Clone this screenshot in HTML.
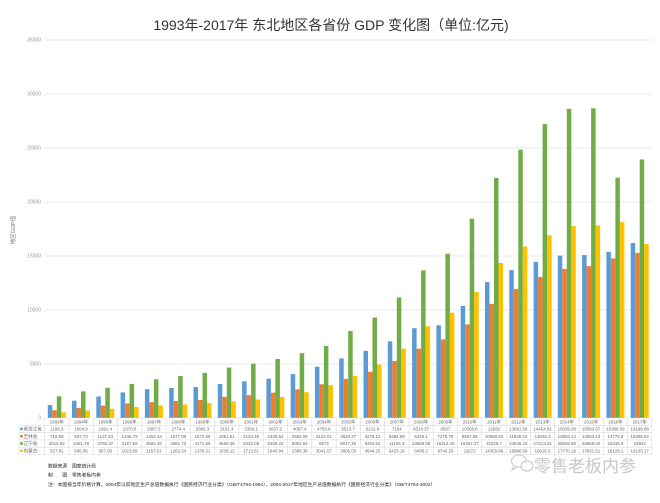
<!DOCTYPE html>
<html>
<head>
<meta charset="utf-8">
<style>
html,body{margin:0;padding:0;background:#ffffff;}
svg{display:block;}
text{font-family:"Liberation Sans","Noto Sans CJK SC",sans-serif;}
</style>
</head>
<body>
<svg width="660" height="503" viewBox="0 0 660 503" xmlns="http://www.w3.org/2000/svg">
<rect width="660" height="503" fill="#ffffff"/>
<!-- title -->
<text x="331" y="30" font-size="14" fill="#333" text-anchor="middle">1993年-2017年 东北地区各省份 GDP 变化图（单位:亿元)</text>

<!-- gridlines -->
<g stroke="#e3e3e3" stroke-width="0.8">
<line x1="44.6" y1="40" x2="652" y2="40"/>
<line x1="44.6" y1="94" x2="652" y2="94"/>
<line x1="44.6" y1="148" x2="652" y2="148"/>
<line x1="44.6" y1="202" x2="652" y2="202"/>
<line x1="44.6" y1="256" x2="652" y2="256"/>
<line x1="44.6" y1="310" x2="652" y2="310"/>
<line x1="44.6" y1="364" x2="652" y2="364"/>
</g>
<g font-size="5" fill="#999" text-anchor="end">
<text x="41" y="41.7">35000</text>
<text x="41" y="95.7">30000</text>
<text x="41" y="149.7">25000</text>
<text x="41" y="203.7">20000</text>
<text x="41" y="257.7">15000</text>
<text x="41" y="311.7">10000</text>
<text x="41" y="365.7">5000</text>
<text x="41" y="419.7">0</text>
</g>
<text transform="translate(15,230) rotate(-90)" font-size="5.5" fill="#777" text-anchor="middle">地区GDP值</text>

<!-- bars -->
<g transform="translate(0,418) scale(1,-1)">
<g transform="translate(56.8,0)"><rect x="-9" width="4.5" height="12.94" fill="#5b9bd5"/><rect x="-4.5" width="4.5" height="7.76" fill="#ed7d31"/><rect x="0" width="4.5" height="21.72" fill="#70ad47"/><rect x="4.5" width="4.5" height="5.70" fill="#ffc000"/></g>
<g transform="translate(81.0,0)"><rect x="-9" width="4.5" height="17.33" fill="#5b9bd5"/><rect x="-4.5" width="4.5" height="10.13" fill="#ed7d31"/><rect x="0" width="4.5" height="26.59" fill="#70ad47"/><rect x="4.5" width="4.5" height="7.51" fill="#ffc000"/></g>
<g transform="translate(105.3,0)"><rect x="-9" width="4.5" height="21.51" fill="#5b9bd5"/><rect x="-4.5" width="4.5" height="12.28" fill="#ed7d31"/><rect x="0" width="4.5" height="30.17" fill="#70ad47"/><rect x="4.5" width="4.5" height="9.26" fill="#ffc000"/></g>
<g transform="translate(129.6,0)"><rect x="-9" width="4.5" height="25.60" fill="#5b9bd5"/><rect x="-4.5" width="4.5" height="14.55" fill="#ed7d31"/><rect x="0" width="4.5" height="34.10" fill="#70ad47"/><rect x="4.5" width="4.5" height="11.05" fill="#ffc000"/></g>
<g transform="translate(153.9,0)"><rect x="-9" width="4.5" height="28.81" fill="#5b9bd5"/><rect x="-4.5" width="4.5" height="15.81" fill="#ed7d31"/><rect x="0" width="4.5" height="38.69" fill="#70ad47"/><rect x="4.5" width="4.5" height="12.46" fill="#ffc000"/></g>
<g transform="translate(178.2,0)"><rect x="-9" width="4.5" height="29.96" fill="#5b9bd5"/><rect x="-4.5" width="4.5" height="17.03" fill="#ed7d31"/><rect x="0" width="4.5" height="41.92" fill="#70ad47"/><rect x="4.5" width="4.5" height="13.64" fill="#ffc000"/></g>
<g transform="translate(202.5,0)"><rect x="-9" width="4.5" height="30.96" fill="#5b9bd5"/><rect x="-4.5" width="4.5" height="18.07" fill="#ed7d31"/><rect x="0" width="4.5" height="45.05" fill="#70ad47"/><rect x="4.5" width="4.5" height="14.90" fill="#ffc000"/></g>
<g transform="translate(226.8,0)"><rect x="-9" width="4.5" height="34.04" fill="#5b9bd5"/><rect x="-4.5" width="4.5" height="21.08" fill="#ed7d31"/><rect x="0" width="4.5" height="50.43" fill="#70ad47"/><rect x="4.5" width="4.5" height="16.62" fill="#ffc000"/></g>
<g transform="translate(251.1,0)"><rect x="-9" width="4.5" height="36.61" fill="#5b9bd5"/><rect x="-4.5" width="4.5" height="22.90" fill="#ed7d31"/><rect x="0" width="4.5" height="54.36" fill="#70ad47"/><rect x="4.5" width="4.5" height="18.51" fill="#ffc000"/></g>
<g transform="translate(275.4,0)"><rect x="-9" width="4.5" height="39.28" fill="#5b9bd5"/><rect x="-4.5" width="4.5" height="25.36" fill="#ed7d31"/><rect x="0" width="4.5" height="58.95" fill="#70ad47"/><rect x="4.5" width="4.5" height="20.96" fill="#ffc000"/></g>
<g transform="translate(299.7,0)"><rect x="-9" width="4.5" height="43.82" fill="#5b9bd5"/><rect x="-4.5" width="4.5" height="28.75" fill="#ed7d31"/><rect x="0" width="4.5" height="64.83" fill="#70ad47"/><rect x="4.5" width="4.5" height="25.79" fill="#ffc000"/></g>
<g transform="translate(323.9,0)"><rect x="-9" width="4.5" height="51.31" fill="#5b9bd5"/><rect x="-4.5" width="4.5" height="33.72" fill="#ed7d31"/><rect x="0" width="4.5" height="72.06" fill="#70ad47"/><rect x="4.5" width="4.5" height="32.84" fill="#ffc000"/></g>
<g transform="translate(348.2,0)"><rect x="-9" width="4.5" height="59.55" fill="#5b9bd5"/><rect x="-4.5" width="4.5" height="39.10" fill="#ed7d31"/><rect x="0" width="4.5" height="86.91" fill="#70ad47"/><rect x="4.5" width="4.5" height="42.17" fill="#ffc000"/></g>
<g transform="translate(372.5,0)"><rect x="-9" width="4.5" height="67.09" fill="#5b9bd5"/><rect x="-4.5" width="4.5" height="46.17" fill="#ed7d31"/><rect x="0" width="4.5" height="100.49" fill="#70ad47"/><rect x="4.5" width="4.5" height="53.40" fill="#ffc000"/></g>
<g transform="translate(396.8,0)"><rect x="-9" width="4.5" height="76.72" fill="#5b9bd5"/><rect x="-4.5" width="4.5" height="57.07" fill="#ed7d31"/><rect x="0" width="4.5" height="120.57" fill="#70ad47"/><rect x="4.5" width="4.5" height="69.37" fill="#ffc000"/></g>
<g transform="translate(421.1,0)"><rect x="-9" width="4.5" height="89.79" fill="#5b9bd5"/><rect x="-4.5" width="4.5" height="69.40" fill="#ed7d31"/><rect x="0" width="4.5" height="147.62" fill="#70ad47"/><rect x="4.5" width="4.5" height="91.76" fill="#ffc000"/></g>
<g transform="translate(445.4,0)"><rect x="-9" width="4.5" height="92.74" fill="#5b9bd5"/><rect x="-4.5" width="4.5" height="78.61" fill="#ed7d31"/><rect x="0" width="4.5" height="164.29" fill="#70ad47"/><rect x="4.5" width="4.5" height="105.19" fill="#ffc000"/></g>
<g transform="translate(469.7,0)"><rect x="-9" width="4.5" height="111.98" fill="#5b9bd5"/><rect x="-4.5" width="4.5" height="93.61" fill="#ed7d31"/><rect x="0" width="4.5" height="199.34" fill="#70ad47"/><rect x="4.5" width="4.5" height="126.06" fill="#ffc000"/></g>
<g transform="translate(494.0,0)"><rect x="-9" width="4.5" height="135.89" fill="#5b9bd5"/><rect x="-4.5" width="4.5" height="114.14" fill="#ed7d31"/><rect x="0" width="4.5" height="240.05" fill="#70ad47"/><rect x="4.5" width="4.5" height="155.09" fill="#ffc000"/></g>
<g transform="translate(518.3,0)"><rect x="-9" width="4.5" height="147.87" fill="#5b9bd5"/><rect x="-4.5" width="4.5" height="128.94" fill="#ed7d31"/><rect x="0" width="4.5" height="268.34" fill="#70ad47"/><rect x="4.5" width="4.5" height="171.51" fill="#ffc000"/></g>
<g transform="translate(542.6,0)"><rect x="-9" width="4.5" height="156.11" fill="#5b9bd5"/><rect x="-4.5" width="4.5" height="140.90" fill="#ed7d31"/><rect x="0" width="4.5" height="293.90" fill="#70ad47"/><rect x="4.5" width="4.5" height="182.70" fill="#ffc000"/></g>
<g transform="translate(566.8,0)"><rect x="-9" width="4.5" height="162.43" fill="#5b9bd5"/><rect x="-4.5" width="4.5" height="149.07" fill="#ed7d31"/><rect x="0" width="4.5" height="309.17" fill="#70ad47"/><rect x="4.5" width="4.5" height="191.92" fill="#ffc000"/></g>
<g transform="translate(591.1,0)"><rect x="-9" width="4.5" height="162.90" fill="#5b9bd5"/><rect x="-4.5" width="4.5" height="151.88" fill="#ed7d31"/><rect x="0" width="4.5" height="309.63" fill="#70ad47"/><rect x="4.5" width="4.5" height="192.58" fill="#ffc000"/></g>
<g transform="translate(615.4,0)"><rect x="-9" width="4.5" height="166.17" fill="#5b9bd5"/><rect x="-4.5" width="4.5" height="159.59" fill="#ed7d31"/><rect x="0" width="4.5" height="240.27" fill="#70ad47"/><rect x="4.5" width="4.5" height="195.78" fill="#ffc000"/></g>
<g transform="translate(639.7,0)"><rect x="-9" width="4.5" height="174.96" fill="#5b9bd5"/><rect x="-4.5" width="4.5" height="165.12" fill="#ed7d31"/><rect x="0" width="4.5" height="258.57" fill="#70ad47"/><rect x="4.5" width="4.5" height="173.91" fill="#ffc000"/></g>
</g>

<!-- table grid -->
<g stroke="#d9d9d9" stroke-width="0.6" fill="none">
<line x1="44.6" y1="418" x2="651.9" y2="418"/>
<line x1="19" y1="425.3" x2="651.9" y2="425.3"/>
<line x1="19" y1="432.6" x2="651.9" y2="432.6"/>
<line x1="19" y1="439.9" x2="651.9" y2="439.9"/>
<line x1="19" y1="447.2" x2="651.9" y2="447.2"/>
<line x1="19" y1="454.5" x2="651.9" y2="454.5"/>
<line x1="19" y1="425.3" x2="19" y2="454.5"/>
<path d="M44.6 418V454.5M68.9 418V454.5M93.2 418V454.5M117.5 418V454.5M141.8 418V454.5M166.1 418V454.5M190.3 418V454.5M214.6 418V454.5M238.9 418V454.5M263.2 418V454.5M287.5 418V454.5M311.8 418V454.5M336.1 418V454.5M360.4 418V454.5M384.7 418V454.5M409.0 418V454.5M433.2 418V454.5M457.5 418V454.5M481.8 418V454.5M506.1 418V454.5M530.4 418V454.5M554.7 418V454.5M579.0 418V454.5M603.3 418V454.5M627.6 418V454.5M651.9 418V454.5"/>
</g>

<!-- row labels -->
<g font-size="4.6" fill="#666">
<rect x="20.2" y="427.6" width="2.6" height="2.6" fill="#5b9bd5"/><text x="23.5" y="430.6">黑龙江省</text>
<rect x="20.2" y="434.9" width="2.6" height="2.6" fill="#ed7d31"/><text x="23.5" y="437.9">吉林省</text>
<rect x="20.2" y="442.2" width="2.6" height="2.6" fill="#70ad47"/><text x="23.5" y="445.2">辽宁省</text>
<rect x="20.2" y="449.5" width="2.6" height="2.6" fill="#ffc000"/><text x="23.5" y="452.5">内蒙古</text>
</g>

<!-- header years -->
<g font-size="4.4" fill="#666" text-anchor="middle">
<text x="56.8" y="423.3">1993年</text><text x="81.0" y="423.3">1994年</text><text x="105.3" y="423.3">1995年</text><text x="129.6" y="423.3">1996年</text><text x="153.9" y="423.3">1997年</text><text x="178.2" y="423.3">1998年</text><text x="202.5" y="423.3">1999年</text><text x="226.8" y="423.3">2000年</text><text x="251.1" y="423.3">2001年</text><text x="275.4" y="423.3">2002年</text><text x="299.7" y="423.3">2003年</text><text x="323.9" y="423.3">2004年</text><text x="348.2" y="423.3">2005年</text><text x="372.5" y="423.3">2006年</text><text x="396.8" y="423.3">2007年</text><text x="421.1" y="423.3">2008年</text><text x="445.4" y="423.3">2009年</text><text x="469.7" y="423.3">2010年</text><text x="494.0" y="423.3">2011年</text><text x="518.3" y="423.3">2012年</text><text x="542.6" y="423.3">2013年</text><text x="566.8" y="423.3">2014年</text><text x="591.1" y="423.3">2015年</text><text x="615.4" y="423.3">2016年</text><text x="639.7" y="423.3">2017年</text>
</g>
<!-- row 1 -->
<g font-size="4.4" fill="#666" text-anchor="middle">
<text x="56.8" y="430.6">1198.3</text><text x="81.0" y="430.6">1604.9</text><text x="105.3" y="430.6">1991.4</text><text x="129.6" y="430.6">2370.5</text><text x="153.9" y="430.6">2667.5</text><text x="178.2" y="430.6">2774.4</text><text x="202.5" y="430.6">2866.3</text><text x="226.8" y="430.6">3151.4</text><text x="251.1" y="430.6">3390.1</text><text x="275.4" y="430.6">3637.2</text><text x="299.7" y="430.6">4057.4</text><text x="323.9" y="430.6">4750.6</text><text x="348.2" y="430.6">5513.7</text><text x="372.5" y="430.6">6211.8</text><text x="396.8" y="430.6">7104</text><text x="421.1" y="430.6">8314.37</text><text x="445.4" y="430.6">8587</text><text x="469.7" y="430.6">10368.6</text><text x="494.0" y="430.6">12582</text><text x="518.3" y="430.6">13691.58</text><text x="542.6" y="430.6">14454.91</text><text x="566.8" y="430.6">15039.38</text><text x="591.1" y="430.6">15083.67</text><text x="615.4" y="430.6">15386.09</text><text x="639.7" y="430.6">16199.88</text>
</g>
<!-- row 2 -->
<g font-size="4.4" fill="#666" text-anchor="middle">
<text x="56.8" y="437.9">718.58</text><text x="81.0" y="437.9">937.73</text><text x="105.3" y="437.9">1137.23</text><text x="129.6" y="437.9">1346.79</text><text x="153.9" y="437.9">1464.34</text><text x="178.2" y="437.9">1577.05</text><text x="202.5" y="437.9">1672.96</text><text x="226.8" y="437.9">1951.51</text><text x="251.1" y="437.9">2120.35</text><text x="275.4" y="437.9">2348.54</text><text x="299.7" y="437.9">2662.08</text><text x="323.9" y="437.9">3122.01</text><text x="348.2" y="437.9">3620.27</text><text x="372.5" y="437.9">4275.12</text><text x="396.8" y="437.9">5284.69</text><text x="421.1" y="437.9">6426.1</text><text x="445.4" y="437.9">7278.75</text><text x="469.7" y="437.9">8667.58</text><text x="494.0" y="437.9">10568.83</text><text x="518.3" y="437.9">11939.24</text><text x="542.6" y="437.9">13046.4</text><text x="566.8" y="437.9">13803.14</text><text x="591.1" y="437.9">14063.13</text><text x="615.4" y="437.9">14776.8</text><text x="639.7" y="437.9">15288.94</text>
</g>
<!-- row 3 -->
<g font-size="4.4" fill="#666" text-anchor="middle">
<text x="56.8" y="445.2">2010.82</text><text x="81.0" y="445.2">2461.78</text><text x="105.3" y="445.2">2793.37</text><text x="129.6" y="445.2">3157.69</text><text x="153.9" y="445.2">3582.46</text><text x="178.2" y="445.2">3881.73</text><text x="202.5" y="445.2">4171.69</text><text x="226.8" y="445.2">4669.06</text><text x="251.1" y="445.2">5033.08</text><text x="275.4" y="445.2">5458.22</text><text x="299.7" y="445.2">6002.54</text><text x="323.9" y="445.2">6672</text><text x="348.2" y="445.2">8047.26</text><text x="372.5" y="445.2">9304.52</text><text x="396.8" y="445.2">11164.3</text><text x="421.1" y="445.2">13668.58</text><text x="445.4" y="445.2">15212.49</text><text x="469.7" y="445.2">18457.27</text><text x="494.0" y="445.2">22226.7</text><text x="518.3" y="445.2">24846.43</text><text x="542.6" y="445.2">27213.22</text><text x="566.8" y="445.2">28626.58</text><text x="591.1" y="445.2">28669.02</text><text x="615.4" y="445.2">22246.9</text><text x="639.7" y="445.2">23942</text>
</g>
<!-- row 4 -->
<g font-size="4.4" fill="#666" text-anchor="middle">
<text x="56.8" y="452.5">527.81</text><text x="81.0" y="452.5">695.06</text><text x="105.3" y="452.5">857.06</text><text x="129.6" y="452.5">1023.09</text><text x="153.9" y="452.5">1153.51</text><text x="178.2" y="452.5">1262.54</text><text x="202.5" y="452.5">1379.31</text><text x="226.8" y="452.5">1539.12</text><text x="251.1" y="452.5">1713.81</text><text x="275.4" y="452.5">1940.94</text><text x="299.7" y="452.5">2388.38</text><text x="323.9" y="452.5">3041.07</text><text x="348.2" y="452.5">3905.03</text><text x="372.5" y="452.5">4944.25</text><text x="396.8" y="452.5">6423.18</text><text x="421.1" y="452.5">8496.2</text><text x="445.4" y="452.5">9740.25</text><text x="469.7" y="452.5">11672</text><text x="494.0" y="452.5">14359.88</text><text x="518.3" y="452.5">15880.58</text><text x="542.6" y="452.5">16916.5</text><text x="566.8" y="452.5">17770.19</text><text x="591.1" y="452.5">17831.51</text><text x="615.4" y="452.5">18128.1</text><text x="639.7" y="452.5">16103.17</text>
</g>

<!-- watermark -->
<g stroke="#c9c9c9" stroke-width="1.1" fill="#fff">
<ellipse cx="519" cy="461" rx="7.5" ry="6"/>
<path d="M514 466 L512 470 L517 467" fill="#fff"/>
<ellipse cx="527" cy="466" rx="6" ry="5"/>
</g>
<text x="534" y="472" font-size="17" fill="#c8c8c8">零售老板内参</text>

<!-- notes -->
<g font-size="4.8" fill="#222">
<text x="48" y="467.5">数据来源　国家统计局</text>
<text x="48" y="476.5">制　　图　零售老板内参</text>
<text x="48" y="486">注：本图按当年价格计算。2004年以前地区生产总值数据执行《国民经济行业分类》（GB/T4754-1994），2004-2017年地区生产总值数据执行《国民经济行业分类》（GB/T4754-2002）</text>
</g>
</svg>
</body>
</html>
